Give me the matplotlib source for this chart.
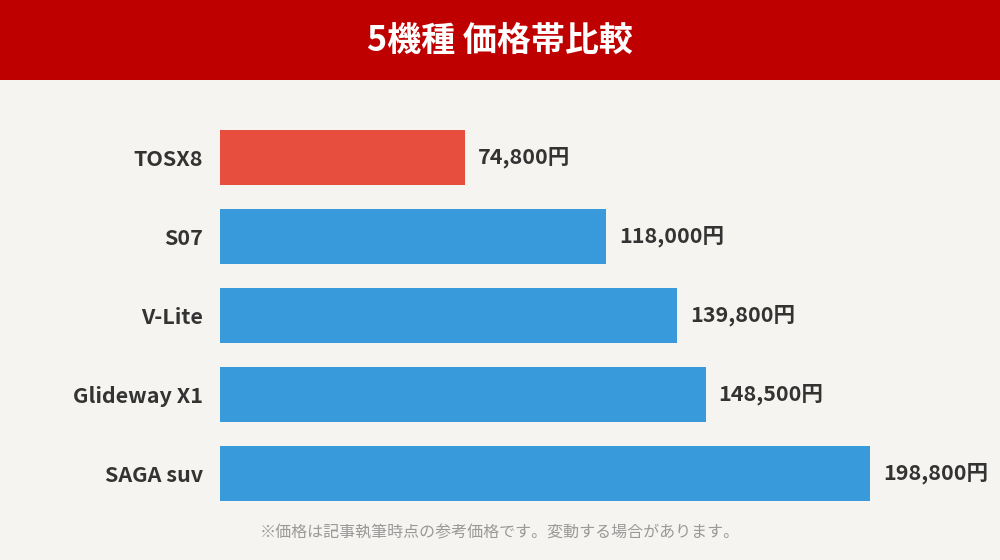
import matplotlib
matplotlib.use('Agg')
import matplotlib.pyplot as plt
from matplotlib.patches import Rectangle

plt.rcParams['font.family'] = ['Noto Sans CJK JP', 'DejaVu Sans']

models = ['TOSX8', 'S07', 'V-Lite', 'Glideway X1', 'SAGA suv']
prices = [74800, 118000, 139800, 148500, 198800]
colors = ['#E84E3E', '#3899DB', '#3899DB', '#3899DB', '#3899DB']
title = '5機種 価格帯比較'
note = '※価格は記事執筆時点の参考価格です。変動する場合があります。'

bg = '#F5F4F0'
fig = plt.figure(figsize=(10, 5.6), dpi=100, facecolor=bg)

# title band
fig.patches.append(Rectangle((0, 1 - 80 / 560), 1, 80 / 560, transform=fig.transFigure,
                             facecolor='#BE0000', edgecolor='none', zorder=0))
fig.text(0.5, 1 - 41 / 560, title, ha='center', va='center', color='white',
         fontsize=24.5, fontweight='bold')

# axes: x from 220px to 1000px, rows spaced 79px
ax = fig.add_axes([0.22, 47 / 560, 0.78, 395 / 560])
ax.set_facecolor(bg)
y = list(range(len(models)))
ax.barh(y, prices, height=0.696, color=colors)
ax.set_ylim(len(models) - 0.5, -0.5)
ax.set_xlim(0, 238500)
for i, p in enumerate(prices):
    ax.text(p + 4000, i, f'{p:,}円', va='center', ha='left', fontsize=15.5,
            fontweight='bold', color='#333333')
ax.set_yticks(y)
ax.set_yticklabels(models, fontsize=15.5, fontweight='bold', color='#333333')
ax.tick_params(axis='y', length=0, pad=12)
ax.set_xticks([])
for s in ax.spines.values():
    s.set_visible(False)

fig.text(0.5, 1 - 533 / 560, note, ha='center', va='center', color='#999999', fontsize=11.5)

fig.savefig('out.png', dpi=100, facecolor=bg)
